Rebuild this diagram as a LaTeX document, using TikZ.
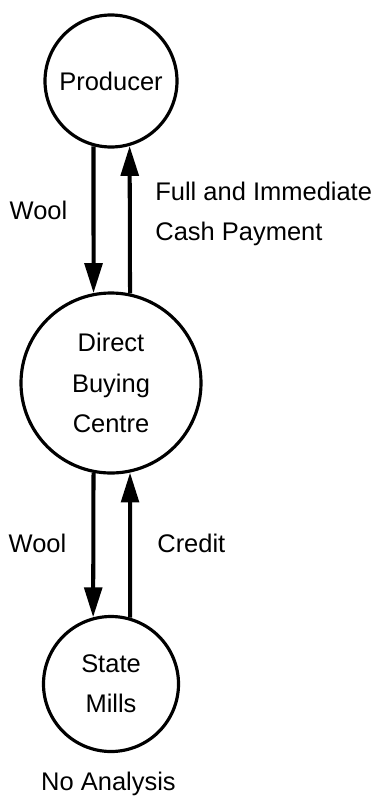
\documentclass[tikz,border=0pt]{standalone}
\usepackage{fontspec}
\setmainfont{Liberation Sans}
\usepackage{tikz}
\usetikzlibrary{arrows.meta}

\begin{document}
\begin{tikzpicture}[scale=0.2]
		\tikzstyle{every node}+=[inner sep=0pt, font=\fontsize{14.5}{23}\selectfont]
		\tikzstyle{stage}=[draw=black, circle, line width=1.8pt, align=center]
		\tikzstyle{flow}=[black, line width=2.3pt, -{Triangle[length=17pt, width=10pt]}]
		\useasboundingbox (0,0) rectangle (39.2,-80.2);
		\node [stage, minimum size=2.64cm] (prod) at (11.1,-8.1) {Producer};
		\node [stage, minimum size=3.6cm] (dbc) at (11.1,-38.3) {Direct\\Buying\\Centre};
		\node [stage, minimum size=2.7cm] (mills) at (11.1,-68.4) {State\\Mills};
		\draw [flow] (prod.-105.8) -- (dbc.101.5);
		\draw [flow] (dbc.78.5) -- (prod.-74.2);
		\draw [flow] (dbc.-101.5) -- (mills.105.5);
		\draw [flow] (mills.74.5) -- (dbc.-78.5);
		\node (wool1) at (3.85,-21.0) {Wool};
		\node [anchor=west, align=left] (pay) at (15.5,-21.4) {Full and Immediate\\Cash Payment};
		\node (wool2) at (3.75,-54.3) {Wool};
		\node [anchor=west] (credit) at (15.7,-54.3) {Credit};
		\node (none) at (10.85,-78.4) {No Analysis};
\end{tikzpicture}
\end{document}
